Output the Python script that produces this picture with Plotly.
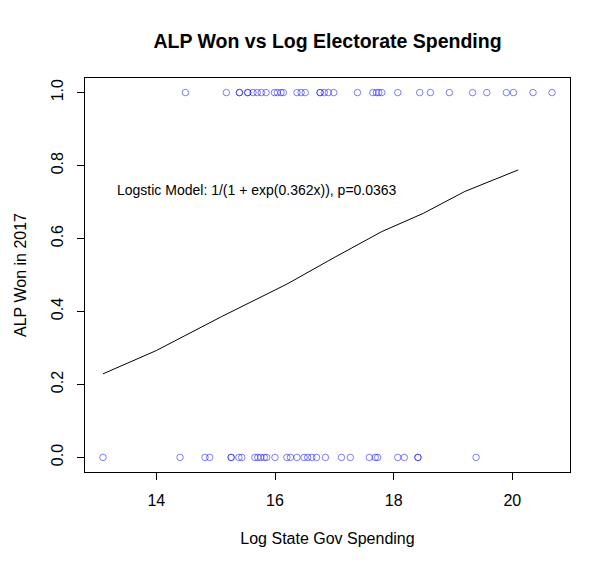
import plotly.graph_objects as go

# log state gov spending, split by outcome
won_x = [14.49, 15.18, 15.40, 15.40, 15.54, 15.54, 15.63, 15.70, 15.77, 15.85,
         15.99, 16.04, 16.10, 16.14, 16.37, 16.44, 16.51, 16.76, 16.76, 16.83,
         16.90, 16.99, 17.39, 17.65, 17.71, 17.75, 17.80, 18.07, 18.44, 18.62,
         18.94, 19.33, 19.57, 19.90, 20.02, 20.35, 20.67]
lost_x = [13.10, 14.40, 14.82, 14.90, 15.26, 15.26, 15.39, 15.44, 15.66, 15.71,
          15.76, 15.82, 15.86, 16.00, 16.20, 16.26, 16.37, 16.49, 16.55, 16.62,
          16.70, 16.85, 17.12, 17.27, 17.59, 17.69, 17.73, 18.07, 18.18, 18.41,
          18.41, 19.39]

# fitted logistic curve
fit_x = [13.1, 14.0, 15.1, 16.2, 17.0, 17.8, 18.5, 19.2, 20.1]
fit_y = [0.229, 0.293, 0.386, 0.475, 0.548, 0.619, 0.669, 0.729, 0.788]

y_ticks = [0.0, 0.2, 0.4, 0.6, 0.8, 1.0]
x_ticks = [14, 16, 18, 20]

FONT = "Liberation Sans, Arial, sans-serif"
PT = "rgba(0,0,255,0.5)"

fig = go.Figure()
for xs, val in ((won_x, 1), (lost_x, 0)):
    fig.add_trace(go.Scatter(
        x=xs, y=[val] * len(xs), mode="markers",
        marker=dict(symbol="circle-open", size=6.5, color=PT, line=dict(width=1, color=PT)),
        showlegend=False, hoverinfo="x+y"))
fig.add_trace(go.Scatter(x=fit_x, y=fit_y, mode="lines",
                         line=dict(color="black", width=1), showlegend=False))

axis = dict(showline=True, mirror=True, linecolor="black", linewidth=1.2,
            ticks="outside", ticklen=7, tickwidth=1.2, tickcolor="black",
            showgrid=False, zeroline=False, tickfont=dict(size=16, color="black"))

# page sits 8px in from the window corner, so margins are offset by that
fig.update_layout(
    width=611, height=570,
    paper_bgcolor="white", plot_bgcolor="white",
    font=dict(family=FONT, color="black"),
    margin=dict(l=70, r=49, t=70, b=106),
    title=dict(text="<b>ALP Won vs Log Electorate Spending</b>", x=0.5, xanchor="center",
               xref="paper", y=1 - 33 / 570, yref="container", yanchor="middle",
               font=dict(size=19.5, color="black")),
    xaxis=dict(axis, range=[12.797, 20.973], tickvals=x_ticks, ticklabelstandoff=7,
               title=dict(text="Log State Gov Spending", font=dict(size=16), standoff=24)),
    yaxis=dict(axis, range=[-0.04, 1.04], tickvals=y_ticks, tickformat=".1f",
               tickangle=-90, ticklabelstandoff=8,
               title=dict(text="ALP Won in 2017", font=dict(size=16), standoff=17)),
    annotations=[dict(text="Logstic Model: 1/(1 + exp(0.362x)), p=0.0363",
                      x=13.30, y=0.733, xref="x", yref="y", xanchor="left",
                      yanchor="middle", showarrow=False,
                      font=dict(size=14, color="black"))],
)

fig.write_html("out.html")
